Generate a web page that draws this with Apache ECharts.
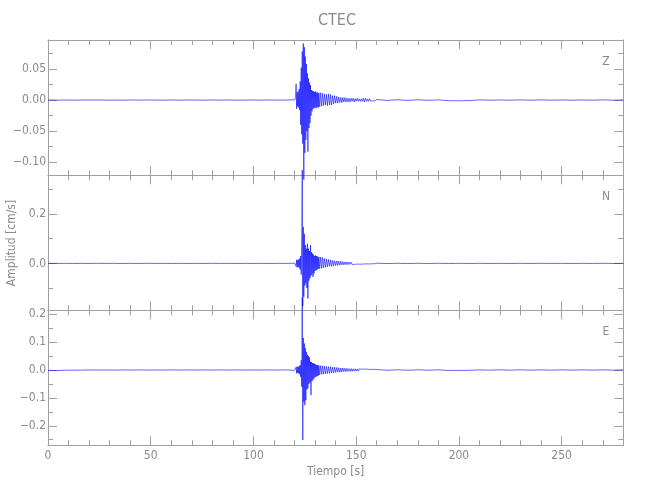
<!DOCTYPE html>
<html><head><meta charset="utf-8">
<script src="https://cdn.jsdelivr.net/npm/echarts@6/dist/echarts.min.js"></script>
<style>html,body{margin:0;padding:0;background:#fff}#c{width:650px;height:500px}</style>
</head><body><div id="c"></div>
<script>
// ---- sampling grids (seconds) ----
const preT0 = 0,     preDt = 4;     // 0 .. 116
const burstT0 = 120, burstDt = 0.25; // 120 .. 131.75
const midT0 = 132,   midDt = 0.5;   // 132 .. 159.5
const postT0 = 160,  postDt = 5;    // 160 .. 280

const channelNames = ['Z', 'N', 'E'];
const titleText = 'CTEC';
const xName = 'Tiempo [s]';
const yName = 'Amplitud [cm/s]';

// ---- Z component (cm/s) ----
const zPre = [0.0002,-0.0001,0.0001,-0.0002,0.0001,0.0000,0.0002,-0.0001,0.0000,-0.0002,0.0001,-0.0001,0.0002,0.0000,-0.0001,0.0001,-0.0002,0.0001,0.0000,-0.0001,0.0002,-0.0001,0.0001,-0.0002,0.0000,0.0001,-0.0001,0.0002,-0.0001,0.0000];
const zBurst = [0.0005,-0.0008,0.004,0.026, -0.014,0.012,-0.010,0.014, -0.012,0.018,-0.016,0.030, -0.040,0.052,-0.055,0.078, -0.070,0.091,-0.128,0.085, -0.085,0.070,-0.064,0.058, -0.050,0.043,-0.083,0.035, -0.045,0.028,-0.037,0.024, -0.025,0.016,-0.018,0.015, -0.014,0.014,-0.013,0.013, -0.012,0.014,-0.013,0.012, -0.011,0.012,-0.012,0.011];
const zMid = [-0.011,0.012,-0.010,0.011,-0.009,0.010,-0.008,0.009,-0.009,0.010,-0.008,0.009,-0.008,0.007,-0.006,0.007,-0.005,0.006,-0.005,0.005,-0.004,0.004,-0.004,0.004,-0.003,0.004,-0.003,0.003,-0.003,0.003,-0.003,0.003,-0.002,0.003,-0.003,0.002,-0.002,0.003,-0.002,0.002,-0.002,0.002,-0.002,0.003,-0.003,0.003,-0.002,0.002,-0.002,0.002,-0.0015,0.0015,-0.0015,0.0015,-0.0012,0.0012];
const zPost = [0.0008,-0.0006,0.0005,-0.0005,0.0004,-0.0004,0.0003,-0.0010,-0.0012,-0.0008,0.0003,-0.0003,0.0002,-0.0003,0.0003,-0.0002,0.0003,-0.0002,0.0002,-0.0003,0.0002,-0.0002,0.0003,-0.0002,0.0002];

// ---- N component (cm/s) ----
const nPre = [0.0003,-0.0002,0.0002,-0.0003,0.0001,-0.0002,0.0003,-0.0001,0.0002,-0.0003,0.0002,-0.0002,0.0003,-0.0001,0.0002,-0.0002,0.0001,-0.0003,0.0002,-0.0002,0.0003,-0.0001,0.0002,-0.0003,0.0002,-0.0002,0.0001,-0.0002,0.0003,-0.0001];
const nBurst = [0.001,-0.002,0.006,-0.012, 0.015,-0.016,0.012,-0.014, 0.016,-0.018,0.020,-0.025, 0.030,-0.045,0.110,0.378, -0.173,0.148,-0.135,0.120, -0.090,0.074,-0.080,0.060, -0.100,0.080,-0.142,0.060, -0.070,0.050,-0.060,0.074, -0.050,0.045,-0.045,0.040, -0.055,0.035,-0.040,0.030, -0.030,0.032,-0.028,0.030, -0.025,0.028,-0.022,0.025];
const nMid = [-0.022,0.026,-0.020,0.024,-0.018,0.020,-0.016,0.018,-0.014,0.016,-0.012,0.014,-0.012,0.012,-0.010,0.011,-0.009,0.010,-0.008,0.009,-0.007,0.008,-0.006,0.007,-0.006,0.006,-0.005,0.006,-0.005,0.005,-0.004,0.005,-0.004,0.004,-0.004,0.004,-0.003,0.004,-0.003,0.003,-0.003,0.003,-0.003,0.003,-0.002,0.003,-0.002,0.002,-0.002,0.002,-0.002,0.002,-0.0015,0.0015,-0.0015,0.0015];
const nPost = [0.0008,-0.0006,0.0005,-0.0005,0.0004,-0.0004,0.0004,-0.0004,0.0003,-0.0003,0.0003,-0.0003,0.0002,-0.0003,0.0003,-0.0002,0.0003,-0.0002,0.0002,-0.0003,0.0002,-0.0002,0.0003,-0.0002,0.0002];

// ---- E component (cm/s) ----
const ePre = [-0.0015,-0.0018,-0.0010,-0.0004,-0.0006,0.0002,-0.0003,0.0001,-0.0004,0.0002,-0.0002,0.0003,-0.0003,0.0001,-0.0002,0.0003,-0.0001,0.0002,-0.0003,0.0002,-0.0002,0.0003,-0.0001,0.0002,-0.0002,0.0001,-0.0003,0.0002,-0.0001,0.0002];
const eBurst = [-0.001,0.001,-0.004,0.010, -0.012,0.012,-0.010,0.011, -0.012,0.014,-0.015,0.018, -0.025,0.035,-0.060,0.260, -0.251,0.115,-0.114,0.095, -0.126,0.078,-0.108,0.065, -0.070,0.055,-0.066,0.050, -0.050,0.045,-0.045,0.030, -0.090,0.028,-0.040,0.025, -0.035,0.024,-0.030,0.022, -0.026,0.020,-0.024,0.018, -0.022,0.018,-0.020,0.016];
const eMid = [-0.018,0.016,-0.016,0.015,-0.015,0.014,-0.014,0.013,-0.013,0.012,-0.012,0.012,-0.011,0.010,-0.010,0.010,-0.009,0.009,-0.008,0.008,-0.008,0.007,-0.007,0.007,-0.006,0.006,-0.006,0.006,-0.005,0.005,-0.005,0.005,-0.005,0.004,-0.004,0.004,-0.004,0.004,-0.004,0.004,-0.003,0.003,-0.003,0.003,-0.003,0.003,-0.003,0.003,-0.003,0.002,-0.002,0.002,-0.002,0.002,-0.002,0.002];
const ePost = [0.0012,-0.0012,0.0010,-0.0010,0.0008,-0.0008,0.0006,-0.0018,-0.0014,-0.0010,0.0005,-0.0006,0.0006,-0.0005,0.0006,-0.0006,0.0005,-0.0006,0.0005,-0.0005,0.0006,-0.0005,0.0005,-0.0006,0.0005];

// ---- axis ranges and tick values ----
const xMin = 0, xMax = 280, xInterval = 50;
const yRanges = [[-0.121, 0.0966], [-0.19, 0.357], [-0.27, 0.214]];
const yMajor = [[-0.10, -0.05, 0, 0.05], [0, 0.2], [-0.2, -0.1, 0, 0.1, 0.2]];
const yMinor = [[-0.075, -0.025, 0.025, 0.075], [-0.1, 0.1, 0.3], [-0.25, -0.15, -0.05, 0.05, 0.15]];
const yDecimals = [2, 1, 1];

// ---- layout / style (not data) ----
const gridTops = [40, 175.3, 310.3];
const gridHeights = [135.3, 135, 135];
const GL = 48, GR = 26.7;
const AX = '#a0a0a0', TXT = '#8a8a8a', LINE = '#0000ff';
const FONT = '"Liberation Sans Narrow","DejaVu Sans Condensed","Liberation Sans",sans-serif';

function build(pre, burst, mid, post) {
  const out = [];
  pre.forEach((v, i) => out.push([preT0 + i * preDt, v]));
  burst.forEach((v, i) => out.push([burstT0 + i * burstDt, v]));
  mid.forEach((v, i) => out.push([midT0 + i * midDt, v]));
  post.forEach((v, i) => out.push([postT0 + i * postDt, v]));
  return out;
}
const traces = [build(zPre, zBurst, zMid, zPost), build(nPre, nBurst, nMid, nPost), build(ePre, eBurst, eMid, ePost)];

function fmt(v, d) {
  const s = Math.abs(v).toFixed(d);
  return (v < -1e-9 ? '\u2212' : '') + s;
}

const grids = gridTops.map((t, i) => ({ left: GL, right: GR, top: t, height: gridHeights[i], show: false }));

const xAxes = [];
[0, 1, 2].forEach(g => {
  xAxes.push({
    type: 'value', gridIndex: g, position: 'bottom', min: xMin, max: xMax, interval: xInterval,
    axisLine: { show: true, onZero: false, lineStyle: { color: AX, width: 1 } },
    axisTick: { show: true, inside: true, length: 9, lineStyle: { color: AX } },
    minorTick: { show: true, splitNumber: 5, length: 5, lineStyle: { color: AX } },
    axisLabel: { show: g === 2, showMaxLabel: false, margin: 5, color: TXT, fontSize: 12, fontFamily: FONT },
    splitLine: { show: false },
    name: g === 2 ? xName : '', nameLocation: 'middle', nameGap: 21,
    nameTextStyle: { color: TXT, fontSize: 12, fontFamily: FONT }
  });
});
[0, 1, 2].forEach(g => {
  xAxes.push({
    type: 'value', gridIndex: g, position: 'top', min: xMin, max: xMax, interval: xInterval,
    axisLine: { show: true, onZero: false, lineStyle: { color: AX, width: 1 } },
    axisTick: { show: true, inside: true, length: 9, lineStyle: { color: AX } },
    minorTick: { show: true, splitNumber: 5, length: 5, lineStyle: { color: AX } },
    axisLabel: { show: false }, splitLine: { show: false }
  });
});

const yAxes = [];
function yAx(g, pos, major) {
  return {
    type: 'value', gridIndex: g, position: pos, min: yRanges[g][0], max: yRanges[g][1], offset: 0,
    axisLine: { show: true, onZero: false, lineStyle: { color: AX, width: 1 } },
    axisTick: { show: true, inside: true, length: major ? 9 : 5, customValues: major ? yMajor[g] : yMinor[g], lineStyle: { color: AX } },
    axisLabel: {
      show: pos === 'left' && major, customValues: yMajor[g], margin: 2,
      color: TXT, fontSize: 12, fontFamily: FONT, formatter: v => fmt(v, yDecimals[g])
    },
    splitLine: { show: false }, minorTick: { show: false }
  };
}
[0, 1, 2].forEach(g => yAxes.push(yAx(g, 'left', true)));
[0, 1, 2].forEach(g => yAxes.push(yAx(g, 'left', false)));
[0, 1, 2].forEach(g => yAxes.push(yAx(g, 'right', true)));
[0, 1, 2].forEach(g => yAxes.push(yAx(g, 'right', false)));

const series = traces.map((d, g) => ({
  type: 'line', xAxisIndex: g, yAxisIndex: g, data: d, showSymbol: false, symbol: 'none',
  clip: false, silent: true,
  lineStyle: { color: LINE, width: 0.6 }
}));

const graphic = [
  { type: 'text', x: 337, y: 21, style: { text: titleText, fill: TXT, font: '16px ' + FONT, textAlign: 'center', textVerticalAlign: 'middle' } },
  { type: 'text', x: 12, y: 243, rotation: Math.PI / 2, style: { text: yName, fill: TXT, font: '12px ' + FONT, textAlign: 'center', textVerticalAlign: 'middle' } }
].concat(channelNames.map((c, i) => ({
  type: 'text', x: 606, y: gridTops[i] + 22,
  style: { text: c, fill: TXT, font: '12px ' + FONT, textAlign: 'center', textVerticalAlign: 'middle' }
})));

const chart = echarts.init(document.getElementById('c'), null, { renderer: 'canvas' });
chart.setOption({
  animation: false,
  backgroundColor: '#ffffff',
  grid: grids, xAxis: xAxes, yAxis: yAxes, series: series, graphic: graphic
});
</script></body></html>
